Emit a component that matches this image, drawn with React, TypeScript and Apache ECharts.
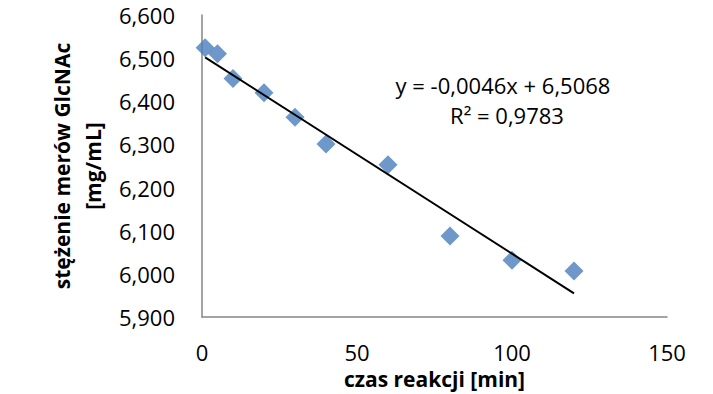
import React, { useEffect, useRef } from "react";
import * as echarts from "echarts";

const timeMin = [1, 5, 10, 20, 30, 40, 60, 80, 100, 120];
const concentration = [6.524, 6.51, 6.453, 6.42, 6.363, 6.301, 6.253, 6.088, 6.032, 6.007];
const trendX = [1, 120];
const trendY = [6.502, 5.955];
const equationLines = ["y = -0,0046x + 6,5068", "R² = 0,9783"];
const xTitle = "czas reakcji [min]";
const yTitle = "stężenie merów GlcNAc\n[mg/mL]";

const FONT = "'Open Sans', 'Noto Sans', sans-serif";

export default function App() {
  const ref = useRef<HTMLDivElement>(null);
  useEffect(() => {
    if (!ref.current) return;
    const chart = echarts.init(ref.current, undefined, { renderer: "svg" });
    chart.setOption({
      animation: false,
      backgroundColor: "#ffffff",
      grid: { left: 202, right: 46, top: 15, bottom: 75, containLabel: false },
      xAxis: {
        type: "value",
        min: 0,
        max: 150,
        interval: 50,
        name: xTitle,
        nameLocation: "middle",
        nameGap: 46,
        nameTextStyle: { fontFamily: FONT, fontSize: 21, fontWeight: "bold", color: "#000" },
        axisLine: { show: true, lineStyle: { color: "#868686", width: 1.5 } },
        axisTick: { show: false },
        splitLine: { show: false },
        axisLabel: { fontFamily: FONT, fontSize: 22, color: "#000", margin: 24 },
      },
      yAxis: {
        type: "value",
        min: 5.9,
        max: 6.6,
        interval: 0.1,
        name: yTitle,
        nameLocation: "middle",
        nameGap: 94,
        nameRotate: 90,
        nameTextStyle: { fontFamily: FONT, fontSize: 21, fontWeight: "bold", color: "#000", lineHeight: 31 },
        axisLine: { show: true, lineStyle: { color: "#868686", width: 1.5 } },
        axisTick: { show: false },
        splitLine: { show: false },
        axisLabel: {
          fontFamily: FONT,
          fontSize: 22,
          color: "#000",
          margin: 27,
          formatter: (v: number) => v.toFixed(3).replace(".", ","),
        },
      },
      series: [
        {
          type: "line",
          data: trendX.map((x, i) => [x, trendY[i]]),
          symbol: "none",
          lineStyle: { color: "#000", width: 2 },
          z: 3,
        },
        {
          type: "scatter",
          data: timeMin.map((x, i) => [x, concentration[i]]),
          symbol: "diamond",
          symbolSize: 19,
          itemStyle: { color: "#4A7EBB" },
          z: 2,
        },
      ],
      graphic: [
        {
          type: "text",
          x: 503,
          y: 85,
          style: {
            text: equationLines[0],
            fontFamily: FONT,
            fontSize: 22,
            fill: "#000",
            align: "center",
            verticalAlign: "middle",
          },
        },
        {
          type: "text",
          x: 507,
          y: 115,
          style: {
            text: equationLines[1],
            fontFamily: FONT,
            fontSize: 22,
            fill: "#000",
            align: "center",
            verticalAlign: "middle",
          },
        },
      ],
    });
    return () => chart.dispose();
  }, []);
  return (
    <div
      ref={ref}
      style={{ position: "fixed", left: 0, top: 0, width: 713, height: 394 }}
    />
  );
}
